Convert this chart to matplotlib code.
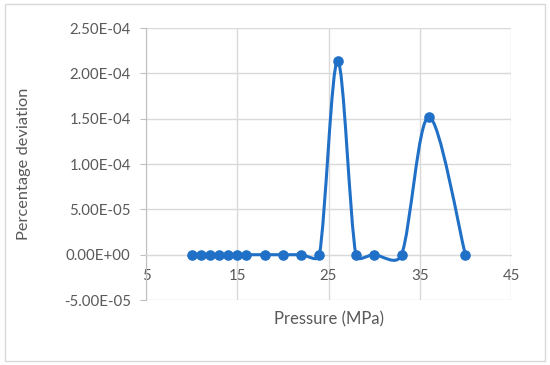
import matplotlib

matplotlib.use("Agg")
import matplotlib.pyplot as plt
import numpy as np
from matplotlib.patches import PathPatch, Rectangle
from matplotlib.path import Path

plt.rcParams["font.family"] = ["Lato", "DejaVu Sans"]

pressure = [10, 11, 12, 13, 14, 15, 16, 18, 20, 22, 24, 26, 28, 30, 33, 36, 40]
deviation = [0, 0, 0, 0, 0, 0, 0, 0, 0, 0, 0, 2.14e-4, 0, 0, 0, 1.52e-4, 0]
yticks = [-5e-5, 0, 5e-5, 1e-4, 1.5e-4, 2e-4, 2.5e-4]
xticks = [5, 15, 25, 35, 45]

BLUE = "#1f70c6"
GRID = "#d9d9d9"
TXT = "#595959"


def smooth_path(ax, x, y):
    # Excel-style smoothed line, built in screen space: Bezier handles are
    # 1/6 of the neighbour chord but never longer than half the segment.
    p = ax.transData.transform(np.column_stack([x, y]))
    n = len(p)
    verts = [p[0]]
    codes = [Path.MOVETO]
    for i in range(n - 1):
        p0 = p[i - 1] if i > 0 else p[i]
        p1, p2 = p[i], p[i + 1]
        p3 = p[i + 2] if i + 2 < n else p[i + 1]
        d12 = np.hypot(*(p2 - p1))
        d02 = np.hypot(*(p2 - p0))
        d13 = np.hypot(*(p3 - p1))
        f1 = 1 / 6 if d02 / 6 < d12 / 2 else d12 / 2 / max(d02, 1e-9)
        f2 = 1 / 6 if d13 / 6 < d12 / 2 else d12 / 2 / max(d13, 1e-9)
        verts += [p1 + (p2 - p0) * f1, p2 - (p3 - p1) * f2, p2]
        codes += [Path.CURVE4] * 3
    verts = ax.transData.inverted().transform(np.array(verts))
    return Path(verts, codes)


fig = plt.figure(figsize=(5.5, 3.65), dpi=100)
fig.patches.append(Rectangle((0.009, 0.012), 0.982, 0.976, transform=fig.transFigure,
                             fill=False, edgecolor=GRID, lw=1.0))
ax = fig.add_axes([0.2655, 0.178, 0.6636, 0.745])

ax.set_xlim(5, 45)
ax.set_ylim(-5e-5, 2.5e-4)
ax.set_xticks(xticks)
ax.set_yticks(yticks)
ax.set_yticklabels([f"{v:.2E}" for v in yticks])
ax.grid(True, color=GRID, lw=1.0)
ax.set_axisbelow(True)

ax.add_patch(PathPatch(smooth_path(ax, pressure, deviation), fill=False, edgecolor=BLUE,
                       lw=2.2, capstyle="round", joinstyle="round", zorder=3))
ax.plot(pressure, deviation, "o", color=BLUE, ms=6.6, zorder=4)

for s in ("top", "right"):
    ax.spines[s].set_visible(False)
ax.spines["bottom"].set_position(("data", 0))
ax.spines["bottom"].set_color(GRID)
ax.spines["left"].set_color("#bfbfbf")
ax.tick_params(axis="x", length=0, pad=10, labelsize=10.8, labelcolor=TXT)
ax.tick_params(axis="y", length=4, color="#bfbfbf", pad=7, labelsize=10.8, labelcolor=TXT)

ax.set_xlabel("Pressure (MPa)", fontsize=12, color=TXT, labelpad=0)
ax.xaxis.set_label_coords(0.5, -0.04)
ax.set_ylabel("Percentage deviation", fontsize=11.8, color=TXT)
ax.yaxis.set_label_coords(-0.315, 0.5)

fig.savefig("out.png", dpi=100, facecolor="white")
